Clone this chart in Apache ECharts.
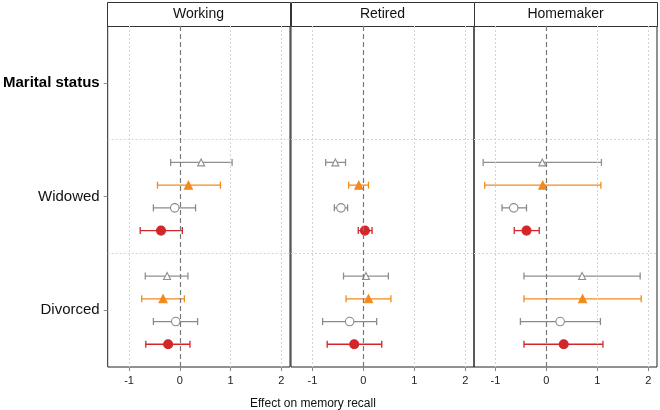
<!DOCTYPE html>
<html>
<head>
<meta charset="utf-8">
<script src="https://cdn.jsdelivr.net/npm/echarts@6/dist/echarts.min.js"></script>
<style>
  html, body { margin: 0; padding: 0; background: #fff; }
  #chart { width: 660px; height: 410px; }
</style>
</head>
<body>
<div id="chart"></div>
<script>
// facets and rows
const panels = ['Working', 'Retired', 'Homemaker']
const rowLabels = ['Marital status', 'Widowed', 'Divorced']
const xTicks = [-1, 0, 1, 2]

// estimates per panel: [Widowed, Divorced]
const grayTriEst = [[0.42, -0.25], [-0.55, 0.05], [-0.08, 0.70]]
const grayTriLo = [[-0.18, -0.68], [-0.74, -0.39], [-1.24, -0.44]]
const grayTriHi = [[1.03, 0.16], [-0.35, 0.49], [1.08, 1.84]]

const orangeEst = [[0.17, -0.33], [-0.09, 0.10], [-0.07, 0.71]]
const orangeLo = [[-0.44, -0.75], [-0.29, -0.34], [-1.21, -0.44]]
const orangeHi = [[0.80, 0.09], [0.10, 0.54], [1.07, 1.86]]

const grayCirEst = [[-0.10, -0.08], [-0.44, -0.27], [-0.64, 0.27]]
const grayCirLo = [[-0.52, -0.52], [-0.57, -0.80], [-0.87, -0.51]]
const grayCirHi = [[0.31, 0.35], [-0.31, 0.26], [-0.39, 1.06]]

const redEst = [[-0.37, -0.23], [0.03, -0.18], [-0.39, 0.34]]
const redLo = [[-0.78, -0.67], [-0.10, -0.71], [-0.63, -0.44]]
const redHi = [[0.05, 0.20], [0.17, 0.36], [-0.14, 1.11]]

const FONT = '"Liberation Sans", Arial, Helvetica, sans-serif'
const gridLeft = [107, 291, 474]
const gridW = 183
const gridTop = 26
const gridH = 341

// row groups: which category rows hold estimates (Widowed = 1, Divorced = 2)
const groupRows = [1, 2]
const specs = [
  { est: grayTriEst, lo: grayTriLo, hi: grayTriHi, off: -0.3, symbol: 'triangle', color: '#8f8f8f', fill: '#fff', size: 7 },
  { est: orangeEst, lo: orangeLo, hi: orangeHi, off: -0.1, symbol: 'triangle', color: '#f28a1e', fill: '#f28a1e', size: 8 },
  { est: grayCirEst, lo: grayCirLo, hi: grayCirHi, off: 0.1, symbol: 'circle', color: '#8a8a8a', fill: '#fff', size: 8.5 },
  { est: redEst, lo: redLo, hi: redHi, off: 0.3, symbol: 'circle', color: '#d2262b', fill: '#d2262b', size: 9 }
]

let myChart = echarts.init(document.getElementById('chart'))

let grids = []
let xAxes = []
let yAxes = []
let series = []
let graphics = []

panels.forEach(function (name, p) {
  grids.push({
    left: gridLeft[p], top: gridTop, width: gridW, height: gridH,
    show: true, borderColor: '#222', borderWidth: 1, backgroundColor: 'transparent'
  })
  xAxes.push({
    gridIndex: p, type: 'value', min: -1.42, max: 2.17,
    axisLine: { show: false, onZero: false },
    axisTick: { show: true, customValues: xTicks, length: 4, lineStyle: { color: '#888' } },
    axisLabel: { customValues: xTicks, color: '#222', fontSize: 11, fontFamily: FONT, margin: 8 },
    splitLine: { show: false }
  })
  yAxes.push({
    gridIndex: p, type: 'value', min: 0, max: 3, inverse: true,
    axisLine: { show: false, onZero: false },
    axisTick: { show: p === 0, customValues: [0.5, 1.5, 2.5], length: 4, lineStyle: { color: '#888' } },
    axisLabel: {
      show: p === 0,
      customValues: [0.5, 1.5, 2.5],
      margin: 8,
      formatter: function (v) {
        let i = Math.round(v - 0.5)
        return i === 0 ? '{b|' + rowLabels[i] + '}' : '{n|' + rowLabels[i] + '}'
      },
      rich: {
        b: { fontWeight: 'bold', fontSize: 15, color: '#000', fontFamily: FONT },
        n: { fontSize: 15, color: '#111', fontFamily: FONT }
      }
    },
    splitLine: { show: false }
  })

  // 参考线
  series.push({
    type: 'scatter', xAxisIndex: p, yAxisIndex: p, data: [], z: 1, silent: true,
    markLine: {
      silent: true, symbol: 'none', label: { show: false }, animation: false,
      data: [
        { xAxis: -1, lineStyle: { color: '#d4d4d4', type: [2, 2], width: 1 } },
        { xAxis: 1, lineStyle: { color: '#d4d4d4', type: [2, 2], width: 1 } },
        { xAxis: 2, lineStyle: { color: '#d4d4d4', type: [2, 2], width: 1 } },
        { yAxis: 1, lineStyle: { color: '#d4d4d4', type: [2, 2], width: 1 } },
        { yAxis: 2, lineStyle: { color: '#d4d4d4', type: [2, 2], width: 1 } },
        { xAxis: 0, lineStyle: { color: '#7a7a7a', type: [5, 3], width: 1.2 } }
      ]
    }
  })

  specs.forEach(function (s) {
    let barData = []
    let ptData = []
    groupRows.forEach(function (row, g) {
      let y = row + 0.5 + s.off
      barData.push([s.lo[p][g], s.hi[p][g], y])
      ptData.push([s.est[p][g], y])
    })
    // 误差线
    series.push({
      type: 'custom', xAxisIndex: p, yAxisIndex: p, data: barData, z: 3, silent: true,
      renderItem: function (params, api) {
        let a = api.coord([api.value(0), api.value(2)])
        let b = api.coord([api.value(1), api.value(2)])
        let st = { stroke: s.color, lineWidth: 1.3 }
        return {
          type: 'group',
          children: [
            { type: 'line', shape: { x1: a[0], y1: a[1], x2: b[0], y2: b[1] }, style: st },
            { type: 'line', shape: { x1: a[0], y1: a[1] - 3.5, x2: a[0], y2: a[1] + 3.5 }, style: st },
            { type: 'line', shape: { x1: b[0], y1: b[1] - 3.5, x2: b[0], y2: b[1] + 3.5 }, style: st }
          ]
        }
      }
    })
    // 点估计
    series.push({
      type: 'scatter', xAxisIndex: p, yAxisIndex: p, data: ptData, z: 4, silent: true,
      symbol: s.symbol, symbolSize: s.size,
      itemStyle: { color: s.fill, borderColor: s.color, borderWidth: 1.1, opacity: 1 }
    })
  })

  // strip header
  graphics.push({
    type: 'rect', left: gridLeft[p], top: 2, silent: true,
    shape: { width: gridW, height: gridTop - 2 },
    style: { fill: '#fff', stroke: '#333', lineWidth: 1 }
  })
  graphics.push({
    type: 'text', x: gridLeft[p] + gridW / 2, y: 14, silent: true,
    style: { text: name, fill: '#111', font: '14px ' + FONT, textAlign: 'center', textVerticalAlign: 'middle' }
  })
})

myChart.setOption({
  animation: false,
  title: {
    text: 'Effect on memory recall', left: 245, top: 393,
    textStyle: { fontSize: 12, fontWeight: 'normal', color: '#111', fontFamily: FONT }
  },
  grid: grids,
  xAxis: xAxes,
  yAxis: yAxes,
  graphic: graphics,
  series: series
})
</script>
</body>
</html>
